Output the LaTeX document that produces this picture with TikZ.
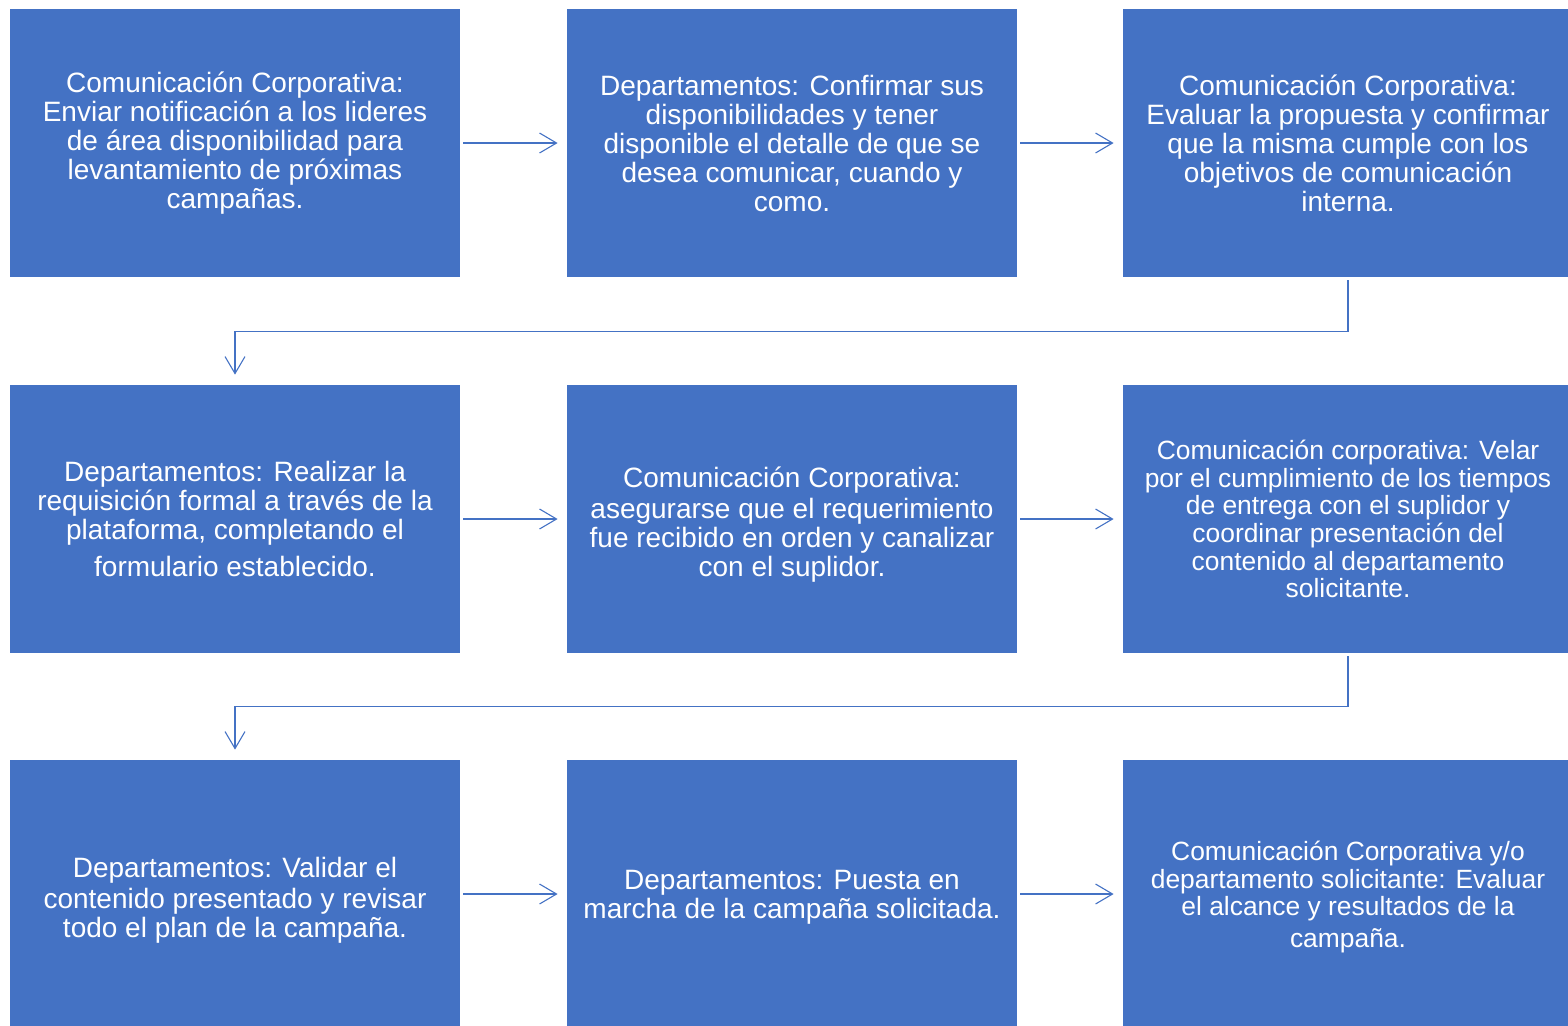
\documentclass[tikz,border=0pt]{standalone}
\usepackage{fontspec}
\setmainfont{Liberation Sans}
\usetikzlibrary{arrows.meta}
\definecolor{boxblue}{HTML}{4472C4}
\tikzset{
  stepbox/.style={fill=boxblue, draw=none, minimum width=225pt, minimum height=134pt,
    inner sep=0pt, text=white, align=center, font=\fontsize{14}{14.5}\selectfont},
  smallbox/.style={font=\fontsize{13.2}{13.8}\selectfont},
  boxtext/.style={text=white, align=center, font=\fontsize{14}{14.5}\selectfont, inner sep=0pt},
  conn/.style={draw=boxblue, line width=0.55pt,
    -{Straight Barb[length=8.5pt,width=10pt,line width=0.55pt]},
    shorten <=1.5pt, shorten >=4.5pt}
}
\begin{document}
\begin{tikzpicture}[x=0.5pt,y=-0.5pt]
\useasboundingbox (0,0) rectangle (1568,1025);
\node[stepbox] (b1) at (235,143) {Comunicación Corporativa:\\Enviar notificación a los lideres\\de área disponibilidad para\\levantamiento de próximas\\campañas.};
\node[stepbox] (b2) at (792,143) {Departamentos: Confirmar sus\\disponibilidades y tener\\disponible el detalle de que se\\desea comunicar, cuando y\\como.};
\node[stepbox] (b3) at (1348,143) {Comunicación Corporativa:\\Evaluar la propuesta y confirmar\\que la misma cumple con los\\objetivos de comunicación\\interna.};
\node[stepbox] (b4) at (235,519) {Departamentos: Realizar la\\requisición formal a través de la\\plataforma, completando el\\[4pt]formulario establecido.};
\node[stepbox] (b5) at (792,519) {};
\node[boxtext] (t5) at (792,525) {Comunicación Corporativa:\\[1pt]asegurarse que el requerimiento\\fue recibido en orden y canalizar\\con el suplidor.};
\node[stepbox,smallbox] (b6) at (1348,519) {Comunicación corporativa: Velar\\por el cumplimiento de los tiempos\\de entrega con el suplidor y\\coordinar presentación del\\contenido al departamento\\solicitante.};
\node[stepbox] (b7) at (235,894) {};
\node[boxtext] (t7) at (235,900) {Departamentos: Validar el\\[1pt]contenido presentado y revisar\\todo el plan de la campaña.};
\node[stepbox] (b8) at (792,894) {};
\node[boxtext] (t8) at (792,897) {Departamentos: Puesta en\\marcha de la campaña solicitada.};
\node[stepbox] (b9) at (1348,894) {};
\node[boxtext,smallbox] (t9) at (1348,897) {Comunicación Corporativa y/o\\departamento solicitante: Evaluar\\el alcance y resultados de la\\[2pt]campaña.};
\draw[conn] (b1.east) -- (b2.west);
\draw[conn] (b2.east) -- (b3.west);
\draw[conn] (b4.east) -- (b5.west);
\draw[conn] (b5.east) -- (b6.west);
\draw[conn] (b7.east) -- (b8.west);
\draw[conn] (b8.east) -- (b9.west);
\draw[conn, shorten >=5pt] (b3.south) -- ++(0,54) -| (b4.north);
\draw[conn, shorten >=5pt] (b6.south) -- ++(0,53) -| (b7.north);
\end{tikzpicture}
\end{document}
